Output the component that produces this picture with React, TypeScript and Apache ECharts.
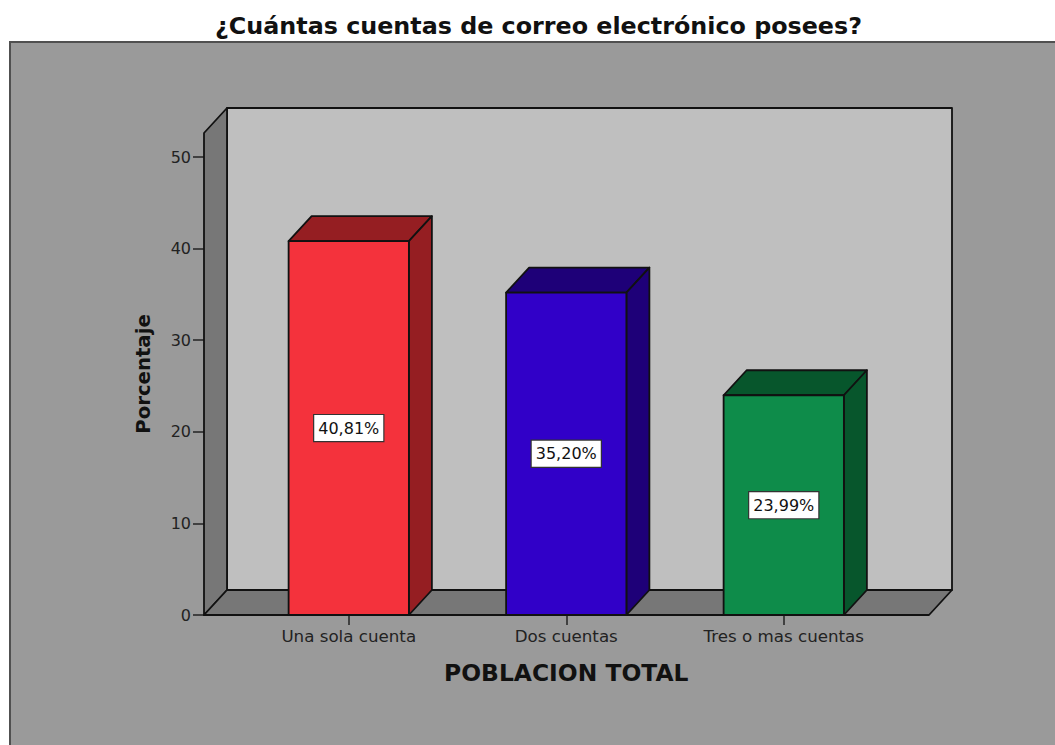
import React, { useEffect, useRef } from "react";
import * as echarts from "echarts";

const categories = ["Una sola cuenta", "Dos cuentas", "Tres o mas cuentas"];
const values = [40.81, 35.2, 23.99];
const valueLabels = ["40,81%", "35,20%", "23,99%"];
const faceColors = ["#f4323c", "#3100c8", "#0e8c4a"];
const sideColors = ["#951e22", "#1e0078", "#07562c"];
const yTicks = { min: 0, max: 50, interval: 10 };

const titleText = "¿Cuántas cuentas de correo electrónico posees?";
const xName = "POBLACION TOTAL";
const yName = "Porcentaje";

const FONT = "DejaVu Sans";
const INK = "#111111";
const DX = 23;
const DY = 25;
const LW = 1.8;

export default function App() {
  const ref = useRef<HTMLDivElement>(null);
  useEffect(() => {
    const chart = echarts.init(ref.current!, null, { renderer: "svg" });

    const poly = (points: number[][], fill: string) => ({
      type: "polygon",
      shape: { points },
      style: { fill, stroke: INK, lineWidth: LW, lineJoin: "round" },
    });

    const renderFrame = (_p: any, api: any) => {
      const band = api.size([1, 0])[0];
      const [cx0, y0] = api.coord([0, 0]);
      const [cx2] = api.coord([2, 0]);
      const l = cx0 - band / 2 - 36;
      const r = cx2 + band / 2 + 36.5;
      const top = y0 - 482;
      return {
        type: "group",
        children: [
          poly([[l + DX, top - DY], [r + DX, top - DY], [r + DX, y0 - DY], [l + DX, y0 - DY]], "#bfbfbf"),
          poly([[l, y0], [l, top], [l + DX, top - DY], [l + DX, y0 - DY]], "#777777"),
          poly([[l, y0], [l + DX, y0 - DY], [r + DX, y0 - DY], [r, y0]], "#777777"),
        ],
      };
    };

    const renderBar = (p: any, api: any) => {
      const i = api.value(0);
      const v = api.value(1);
      const band = api.size([1, 0])[0];
      const w = band * 0.553;
      const [cx, yTop] = api.coord([i, v]);
      const [, yBase] = api.coord([i, 0]);
      const l = cx - w / 2;
      const r = cx + w / 2;
      return {
        type: "group",
        children: [
          poly([[l, yTop], [l + DX, yTop - DY], [r + DX, yTop - DY], [r, yTop]], sideColors[p.dataIndex]),
          poly([[r, yBase], [r, yTop], [r + DX, yTop - DY], [r + DX, yBase - DY]], sideColors[p.dataIndex]),
          poly([[l, yBase], [l, yTop], [r, yTop], [r, yBase]], faceColors[p.dataIndex]),
          {
            type: "text",
            x: cx,
            y: (yTop + yBase) / 2,
            style: {
              text: valueLabels[p.dataIndex],
              font: `16px "${FONT}"`,
              fill: "#111111",
              align: "center",
              verticalAlign: "middle",
              backgroundColor: "#ffffff",
              borderColor: "#333333",
              borderWidth: 1.2,
              padding: [5, 4, 5, 4],
            },
          },
        ],
      };
    };

    chart.setOption({
      animation: false,
      backgroundColor: "#ffffff",
      title: {
        text: titleText,
        left: 533.5,
        top: 9,
        textAlign: "center",
        textStyle: { fontFamily: FONT, fontWeight: "bold", fontSize: 23.8, color: "#111111" },
      },
      graphic: [
        {
          type: "rect",
          z: -10,
          shape: { x: 10, y: 42, width: 1060, height: 720 },
          style: { fill: "#9a9a9a", stroke: "#505050", lineWidth: 2 },
        },
      ],
      grid: { left: 240, width: 652.5, top: 157, height: 458 },
      xAxis: {
        type: "category",
        data: categories,
        name: xName,
        nameLocation: "middle",
        nameGap: 46,
        nameTextStyle: { fontFamily: FONT, fontWeight: "bold", fontSize: 23.4, color: "#111111" },
        axisLine: { show: false },
        axisTick: { show: true, alignWithLabel: true, length: 10, lineStyle: { color: "#222222", width: 1.5 } },
        axisLabel: { margin: 12, fontFamily: FONT, fontSize: 16.7, color: "#222222" },
        splitLine: { show: false },
      },
      yAxis: {
        type: "value",
        min: yTicks.min,
        max: yTicks.max,
        interval: yTicks.interval,
        offset: 36,
        name: yName,
        nameLocation: "middle",
        nameGap: 51,
        nameMoveOverlap: false,
        nameTextStyle: { fontFamily: FONT, fontWeight: "bold", fontSize: 19.7, color: "#111111", padding: [0, 0, 0, 24] },
        axisLine: { show: false },
        axisTick: { show: true, length: 11, lineStyle: { color: "#222222", width: 1.5 } },
        axisLabel: { margin: 13, fontFamily: FONT, fontSize: 16, color: "#222222" },
        splitLine: { show: false },
      },
      series: [
        { type: "custom", z: 2, data: [[0, 0]], renderItem: renderFrame, silent: true },
        {
          type: "custom",
          z: 3,
          data: values.map((v, i) => [i, v]),
          encode: { x: 0, y: 1 },
          renderItem: renderBar,
          silent: true,
        },
      ],
    });
    return () => chart.dispose();
  }, []);
  return <div ref={ref} style={{ position: "fixed", left: 0, top: 0, width: 1055, height: 745 }} />;
}
